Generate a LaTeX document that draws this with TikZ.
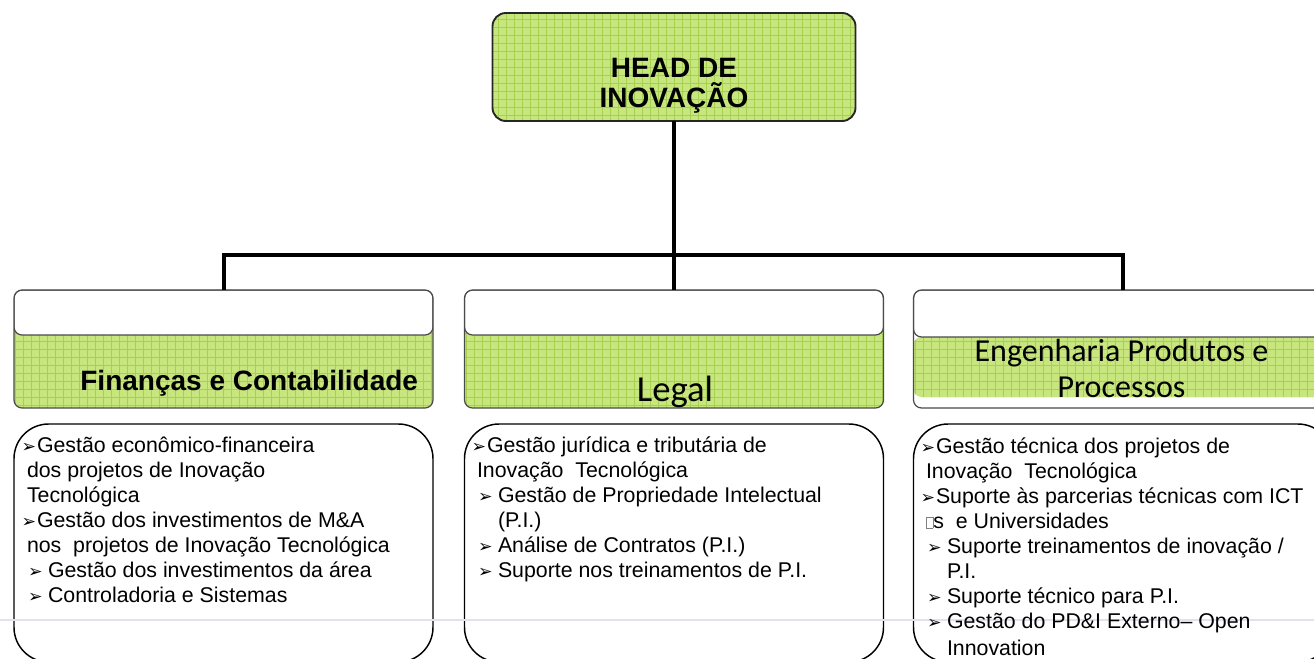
\documentclass[tikz,border=0pt]{standalone}
\usepackage{fontspec}
\setmainfont{Liberation Sans}
\newfontfamily\calfont{Carlito}
\newfontfamily\dvfont{DejaVu Sans}
\usetikzlibrary{calc}
\definecolor{lgreen}{HTML}{C8E67E}
\definecolor{ggrid}{HTML}{A6D150}
\definecolor{bgray}{HTML}{4A4A4A}
\definecolor{faint}{HTML}{E2E2EA}
\newcommand\arrb{{\dvfont\fontsize{13pt}{13pt}\selectfont\raisebox{-0.3pt}{➢}}}
\newcommand\bula{\hspace*{-4pt}\makebox[11.5pt][l]{\arrb}}
\newcommand\bulb{\makebox[15.75pt][l]{\hspace*{0.75pt}\arrb}}
\newcommand\missbox{{\color{gray}\setlength\fboxsep{0pt}\setlength\fboxrule{0.5pt}\fbox{\rule{0pt}{8pt}\hspace{4.5pt}}}}
\newcommand\bodytext[1]{\parbox[t]{380pt}{\fontsize{16pt}{18.75pt}\selectfont\raggedright #1}}
\tikzset{
  gridl/.style={ggrid, line width=0.45pt, step=6pt},
  headbox/.style={rectangle, rounded corners=10pt, minimum width=272.25pt, minimum height=81pt,
    inner sep=0pt, outer sep=0pt, fill=lgreen, draw=black!85, line width=1.4pt,
    path picture={\draw[gridl] (path picture bounding box.south west) grid (path picture bounding box.north east);}},
  topbox/.style={rectangle, rounded corners=6pt, minimum width=314.25pt, minimum height=88.5pt,
    inner sep=0pt, outer sep=0pt, fill=lgreen, draw=bgray, line width=0.9pt,
    path picture={
      \draw[gridl] (path picture bounding box.south west) grid (path picture bounding box.north east);
      \draw[draw=bgray, line width=0.9pt, fill=white, rounded corners=6pt]
        (path picture bounding box.north west) rectangle ([yshift=-33.75pt]path picture bounding box.north east);}},
  engbox/.style={rectangle, rounded corners=6pt, minimum width=314.25pt, minimum height=88.5pt,
    inner sep=0pt, outer sep=0pt, fill=white, draw=bgray, line width=0.9pt,
    path picture={
      \fill[lgreen] ([yshift=-35.25pt]path picture bounding box.north west) rectangle ([yshift=-80.25pt]path picture bounding box.north east);
      \begin{scope}
        \clip ([yshift=-35.25pt]path picture bounding box.north west) rectangle ([yshift=-80.25pt]path picture bounding box.north east);
        \draw[gridl] (path picture bounding box.south west) grid (path picture bounding box.north east);
      \end{scope}
      \draw[draw=bgray, line width=0.9pt, fill=white, rounded corners=6pt]
        (path picture bounding box.north west) rectangle ([yshift=-35.25pt]path picture bounding box.north east);}},
  botbox/.style={rectangle, rounded corners=26pt, minimum width=314.25pt, minimum height=178.5pt,
    inner sep=0pt, outer sep=0pt, draw=black, line width=1.1pt, fill=white},
  conn/.style={line width=3pt, black, line join=miter},
  txt/.style={inner sep=0pt, outer sep=0pt}
}
\begin{document}
\begin{tikzpicture}[x=0.75pt, y=-0.75pt]
\useasboundingbox (0,0) rectangle (1314,659);
\clip (0,0) rectangle (1314,659);
% boxes
\node[headbox] (head) at (674,67) {};
\node[topbox] (fin) at (223.5,349) {};
\node[topbox] (leg) at (674,349) {};
\node[engbox] (eng) at (1123,349) {};
\node[botbox] (finb) at (223.5,543) {};
\node[botbox] (legb) at (674,543) {};
\node[botbox] (engb) at (1123,543) {};
% connectors
\coordinate (bus) at (674,255);
\draw[conn] (head.south) -- (bus);
\draw[conn] (fin.north) |- (bus) -| (eng.north);
\draw[conn] (bus) -- (leg.north);
% faint line
\draw[faint, line width=0.9pt] (0,620) -- (1314,620);
% titles
\node[txt, anchor=base] (headtxt) at (674,78)
  {\parbox[t]{200pt}{\centering\bfseries\fontsize{21pt}{22.5pt}\selectfont HEAD DE\\INOVAÇÃO}};
\node[txt, anchor=base east] (fintxt) at (418,390)
  {\bfseries\fontsize{21pt}{25pt}\selectfont Finanças e Contabilidade};
\node[txt, anchor=base] (legtxt) at (675,402)
  {\calfont\fontsize{27.5pt}{30pt}\selectfont Legal};
\node[txt, anchor=base] (engtxt) at (1121.5,362)
  {\parbox[t]{300pt}{\centering\calfont\fontsize{24pt}{27pt}\selectfont Engenharia Produtos e\\Processos}};
% body texts
\node[txt, anchor=base west] (fint) at (27,452) {\bodytext{%
\bula Gestão econômico-financeira\\
dos projetos de Inovação\\
Tecnológica\\
\bula Gestão dos investimentos de M\&A\\
nos\ \ projetos de Inovação Tecnológica\\
\bulb Gestão dos investimentos da área\\
\bulb Controladoria e Sistemas}};
\node[txt, anchor=base west] (legt) at (477,452) {\bodytext{%
\bula Gestão jurídica e tributária de\\
Inovação\ \ Tecnológica\\
\bulb Gestão de Propriedade Intelectual\\
\hspace*{15.75pt}(P.I.)\\
\bulb Análise de Contratos (P.I.)\\
\bulb Suporte nos treinamentos de P.I.}};
\node[txt, anchor=base west] (engt) at (926,453) {\bodytext{%
\bula Gestão técnica dos projetos de\\
Inovação\ \ Tecnológica\\
\bula Suporte às parcerias técnicas com ICT\\
\missbox s\ \ e Universidades\\
\bulb Suporte treinamentos de inovação /\\
\hspace*{15.75pt}P.I.\\
\bulb Suporte técnico para P.I.\\
\bulb Gestão do PD\&I Externo– Open\\[1.5pt]
\hspace*{15.75pt}Innovation}};
\end{tikzpicture}
\end{document}
